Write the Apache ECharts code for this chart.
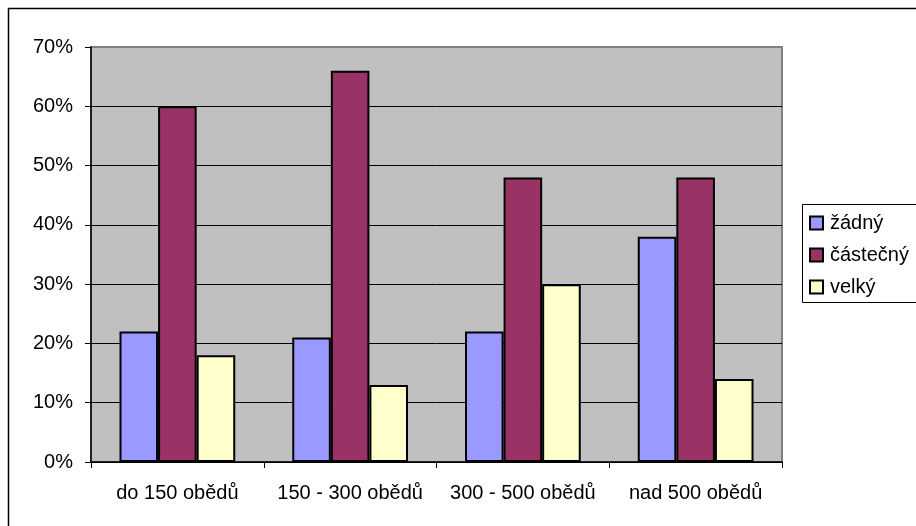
<!DOCTYPE html>
<html>
<head>
<meta charset="utf-8">
<script src="https://cdn.jsdelivr.net/npm/echarts@6/dist/echarts.min.js"></script>
<style>
  html, body { margin: 0; padding: 0; background: #fff; }
  #chart { width: 916px; height: 526px; }
</style>
</head>
<body>
<div id="chart"></div>
<script>
// Meal-count groups and share of each answer (percent)
const categories = ['do 150 obědů', '150 - 300 obědů', '300 - 500 obědů', 'nad 500 obědů'];
const seriesNames = ['žádný', 'částečný', 'velký'];
const zadny = [22, 21, 22, 38];
const castecny = [60, 66, 48, 48];
const velky = [18, 13, 30, 14];
const yTicks = [0, 10, 20, 30, 40, 50, 60, 70];

const colors = ['#9999FF', '#993366', '#FFFFCC'];
const font = 'Liberation Sans, Arial, sans-serif';

const chart = echarts.init(document.getElementById('chart'), null, { renderer: 'canvas' });

const seriesData = [zadny, castecny, velky];

chart.setOption({
  animation: false,
  textStyle: { fontFamily: font },
  grid: {
    left: 91, top: 47, right: 134, bottom: 64,
    show: true,
    backgroundColor: '#C0C0C0',
    borderColor: '#808080',
    borderWidth: 2
  },
  legend: {
    orient: 'vertical',
    left: 809,
    top: 213,
    padding: 0,
    itemWidth: 13,
    itemHeight: 13,
    itemGap: 12,
    icon: 'rect',
    data: seriesNames,
    textStyle: { fontSize: 20, color: '#000', fontFamily: font, lineHeight: 20, padding: [0, 0, 0, 2] }
  },
  xAxis: {
    type: 'category',
    data: categories,
    axisLine: { show: true, lineStyle: { color: '#000', width: 1.5 } },
    axisTick: { show: true, length: 6, lineStyle: { color: '#000', width: 1 } },
    axisLabel: { fontSize: 20, color: '#000', margin: 21, fontFamily: font, interval: 0 },
    splitLine: { show: false }
  },
  yAxis: {
    type: 'value',
    min: yTicks[0],
    max: yTicks[yTicks.length - 1],
    interval: 10,
    axisLine: { show: true, lineStyle: { color: '#000', width: 1.5 } },
    axisTick: { show: true, length: 6, lineStyle: { color: '#000', width: 1 } },
    axisLabel: { fontSize: 20, color: '#000', margin: 18, fontFamily: font, formatter: '{value}%' },
    splitLine: {
      show: true,
      lineStyle: { color: ['#000', '#000', '#000', '#000', '#000', '#000', '#000', '#808080'], width: 1 }
    }
  },
  series: seriesNames.map((name, i) => ({
    name: name,
    type: 'bar',
    data: seriesData[i],
    barGap: '0%',
    barCategoryGap: '33%',
    itemStyle: { color: colors[i], borderColor: '#000', borderWidth: 2 }
  })),
  graphic: [
    {
      type: 'rect',
      shape: { x: 8.5, y: 8.5, width: 1000, height: 1000 },
      style: { fill: 'none', stroke: '#000', lineWidth: 1.5 },
      silent: true, z: -10
    },
    {
      type: 'rect',
      shape: { x: 802.5, y: 204.5, width: 200, height: 98 },
      style: { fill: '#fff', stroke: '#000', lineWidth: 1 },
      silent: true, z: -5
    }
  ]
});
</script>
</body>
</html>
